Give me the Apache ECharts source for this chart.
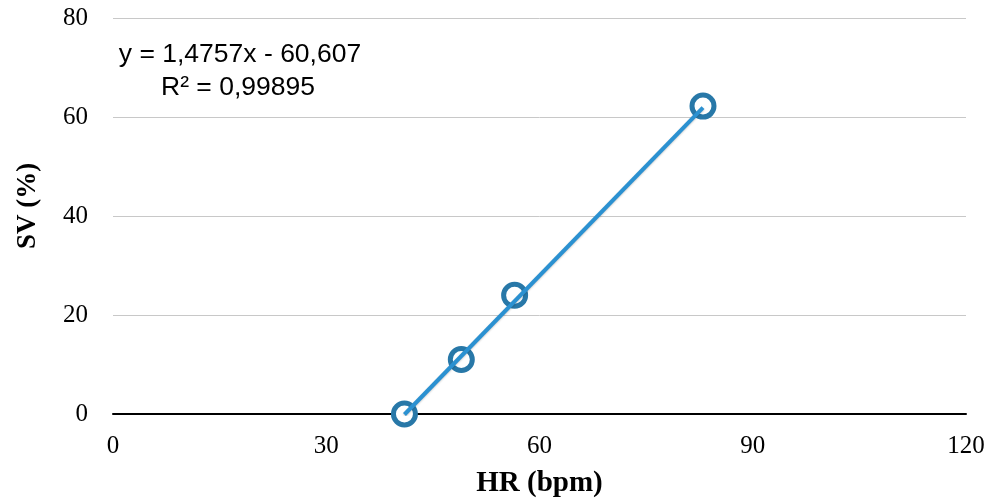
<!DOCTYPE html>
<html>
<head>
<meta charset="utf-8">
<script src="https://cdn.jsdelivr.net/npm/echarts@6/dist/echarts.min.js"></script>
<style>
  html, body { margin: 0; padding: 0; background: #fff; }
  #main { width: 991px; height: 501px; }
</style>
</head>
<body>
<div id="main"></div>
<script>
// measured points (HR, SV)
const hrValues = [41, 49, 56.5, 83];
const svValues = [0, 11, 24, 62.2];
// trendline shown on the chart: y = a*x + b
const trendSlope = 1.4757;
const trendIntercept = -60.607;
const equationLines = ['y = 1,4757x - 60,607', 'R² = 0,99895'];
const xTicks = [0, 30, 60, 90, 120];
const yTicks = [0, 20, 40, 60, 80];

const points = hrValues.map((x, i) => [x, svValues[i]]);
const xMin = Math.min(...hrValues), xMax = Math.max(...hrValues);
const trendData = [
  [xMin, trendSlope * xMin + trendIntercept],
  [xMax, trendSlope * xMax + trendIntercept]
];

const serif = '"Liberation Serif", "DejaVu Serif", serif';
const sans = '"Liberation Sans", Arial, sans-serif';

const chart = echarts.init(document.getElementById('main'));
chart.setOption({
  animation: false,
  backgroundColor: '#fff',
  grid: { left: 113, right: 25, top: 18, bottom: 87, outerBoundsMode: 'none' },
  xAxis: {
    type: 'value',
    min: xTicks[0], max: xTicks[xTicks.length - 1], interval: 30,
    name: 'HR (bpm)', nameLocation: 'middle', nameGap: 55,
    nameTextStyle: { fontFamily: serif, fontWeight: 'bold', fontSize: 29, color: '#000' },
    axisLine: { show: true, onZero: true, lineStyle: { color: '#000', width: 2 } },
    axisTick: { show: false },
    axisLabel: { fontFamily: serif, fontSize: 25, color: '#000', margin: 20 },
    splitLine: { show: false }
  },
  yAxis: {
    type: 'value',
    min: yTicks[0], max: yTicks[yTicks.length - 1], interval: 20,
    name: 'SV (%)', nameLocation: 'middle', nameGap: 71, nameRotate: 90,
    nameTextStyle: { fontFamily: serif, fontWeight: 'bold', fontSize: 27, color: '#000', padding: [0, 0, 0, 20] },
    axisLine: { show: false },
    axisTick: { show: false },
    axisLabel: { fontFamily: serif, fontSize: 25, color: '#000', margin: 25 },
    splitLine: { show: true, lineStyle: { color: '#c8c8c8', width: 1 } }
  },
  graphic: [
    {
      type: 'text', x: 240, y: 55, z: 10,
      style: { text: equationLines[0], fontFamily: sans, fontSize: 26.5, fill: '#000', align: 'center', verticalAlign: 'middle' }
    },
    {
      type: 'text', x: 238, y: 88, z: 10,
      style: { text: equationLines[1], fontFamily: sans, fontSize: 26.5, fill: '#000', align: 'center', verticalAlign: 'middle' }
    }
  ],
  series: [
    {
      type: 'scatter',
      data: points,
      symbol: 'circle',
      symbolSize: 22,
      itemStyle: { color: '#fff', borderColor: '#2878a8', borderWidth: 5, opacity: 1 },
      z: 2
    },
    {
      type: 'line',
      data: trendData,
      showSymbol: false,
      lineStyle: { color: '#2b91d1', width: 4, shadowColor: 'rgba(0,0,0,0.2)', shadowBlur: 2, shadowOffsetY: 1 },
      z: 3
    }
  ]
});
</script>
</body>
</html>
